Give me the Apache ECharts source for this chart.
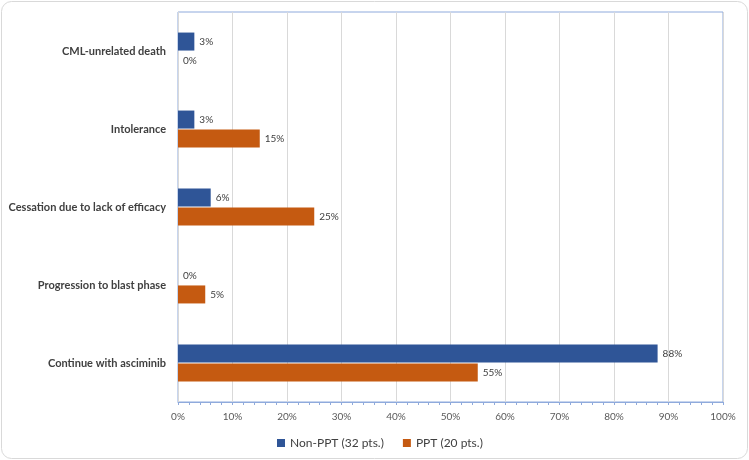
<!DOCTYPE html>
<html><head><meta charset="utf-8">
<script src="https://cdn.jsdelivr.net/npm/echarts@6/dist/echarts.min.js"></script>
<style>html,body{margin:0;padding:0;background:#fff}#c{width:749px;height:460px}</style>
</head><body><div id="c"></div>
<script>
const categories = ['CML-unrelated death','Intolerance','Cessation due to lack of efficacy','Progression to blast phase','Continue with asciminib'];
const nonPPT = [3, 3, 6, 0, 88];
const ppt = [0, 15, 25, 5, 55];
const seriesNames = ['Non-PPT (32 pts.)', 'PPT (20 pts.)'];
const xTicks = [0,10,20,30,40,50,60,70,80,90,100];

const chart = echarts.init(document.getElementById('c'), null, {renderer:'canvas'});
const lbl = {show:true, position:'right', formatter:'{c}%', color:'#404040', fontSize:10, fontFamily:'Lato', distance:5};
chart.setOption({
  animation:false,
  backgroundColor:'#fff',
  graphic:[{type:'rect', shape:{x:1.5,y:1.5,width:746,height:457,r:10}, style:{fill:'none', stroke:'#d9d9d9', lineWidth:1}, z:-1}],
  grid:{left:178, right:26, top:12, bottom:58, show:true, borderColor:'#8FAADC', borderWidth:1},
  legend:{top:432, left:272, itemWidth:8, itemHeight:8, itemGap:19, itemTextGap:5, icon:'rect',
    textStyle:{color:'#404040', fontSize:12, fontFamily:'Lato'}, data:seriesNames},
  xAxis:{type:'value', min:0, max:100, interval:10,
    axisLine:{show:true, lineStyle:{color:'#8FAADC'}},
    axisTick:{show:true, length:3, lineStyle:{color:'#8FAADC'}},
    minorTick:{show:true, splitNumber:5, length:3, lineStyle:{color:'#8FAADC'}},
    splitLine:{show:true, lineStyle:{color:'#D9D9D9'}},
    axisLabel:{formatter: v => xTicks.includes(v) ? v + '%' : '', color:'#595959', fontSize:10, fontFamily:'Lato', margin:10}},
  yAxis:{type:'category', data:categories, inverse:true,
    axisLine:{show:true, lineStyle:{color:'#D9D9D9'}}, axisTick:{show:false},
    axisLabel:{color:'#404040', fontSize:11, fontWeight:'bold', fontFamily:'Lato', margin:12}},
  series:[
    {name:seriesNames[0], type:'bar', data:nonPPT, itemStyle:{color:'#2F5597'}, barWidth:18, barGap:'5%', label:lbl},
    {name:seriesNames[1], type:'bar', data:ppt, itemStyle:{color:'#C55A11'}, barWidth:18, label:lbl}
  ]
});
</script></body></html>
